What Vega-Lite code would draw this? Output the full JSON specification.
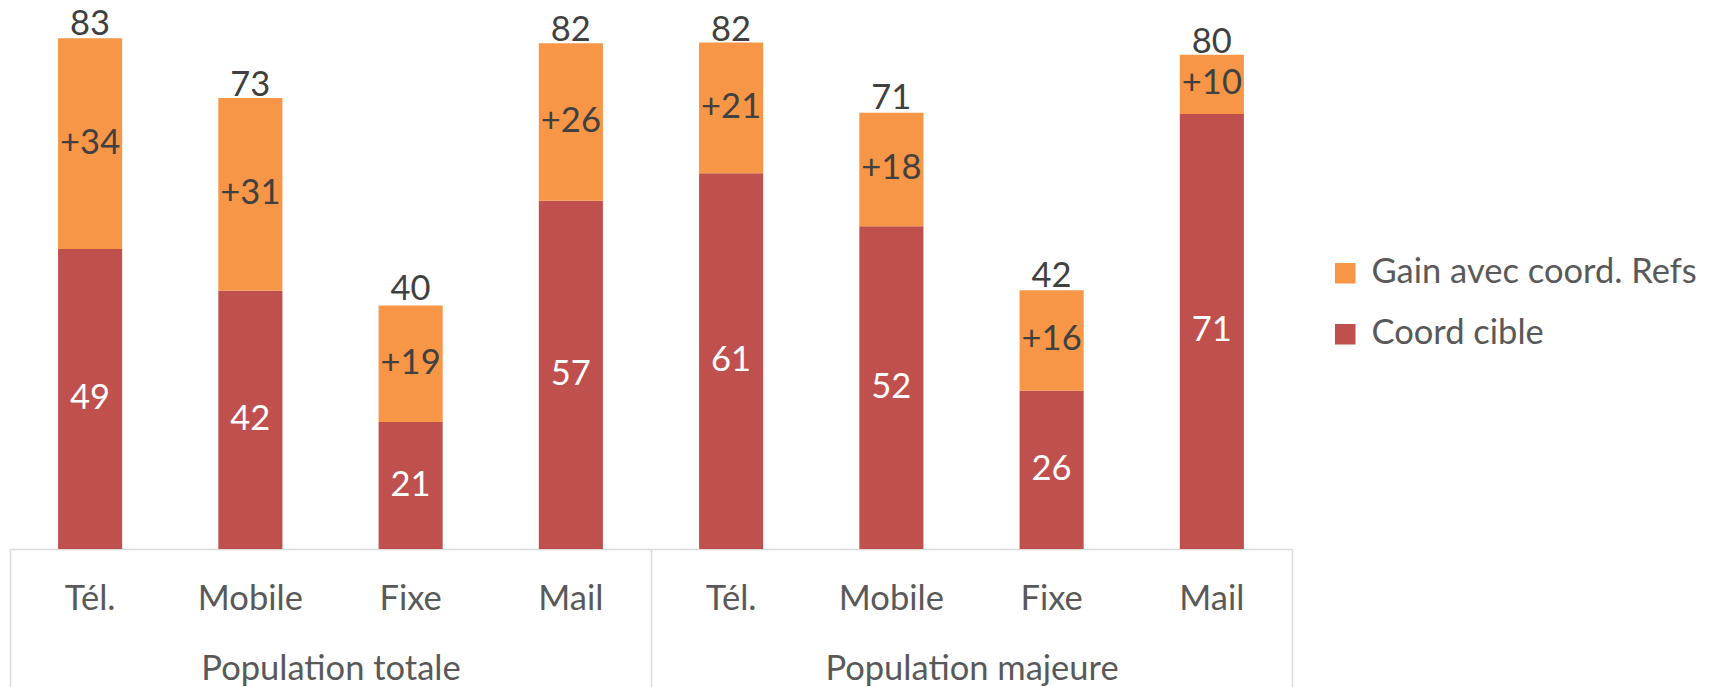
{
  "$schema": "https://vega.github.io/schema/vega-lite/v6.json",
  "autosize": "none",
  "width": 1282,
  "height": 549,
  "padding": {"left": 10, "top": 0, "right": 419, "bottom": 138},
  "background": "white",
  "config": {"view": {"stroke": null}, "font": "Lato", "text": {"font": "Lato"}},
  "datasets": {
    "barres": [
      {"groupe": "Population totale", "canal": "Tél.", "serie": "Coord cible", "valeur": 48.7},
      {"groupe": "Population totale", "canal": "Tél.", "serie": "Gain avec coord. Refs", "valeur": 34.2},
      {"groupe": "Population totale", "canal": "Mobile", "serie": "Coord cible", "valeur": 41.9},
      {"groupe": "Population totale", "canal": "Mobile", "serie": "Gain avec coord. Refs", "valeur": 31.3},
      {"groupe": "Population totale", "canal": "Fixe", "serie": "Coord cible", "valeur": 20.6},
      {"groupe": "Population totale", "canal": "Fixe", "serie": "Gain avec coord. Refs", "valeur": 18.9},
      {"groupe": "Population totale", "canal": "Mail", "serie": "Coord cible", "valeur": 56.5},
      {"groupe": "Population totale", "canal": "Mail", "serie": "Gain avec coord. Refs", "valeur": 25.6},
      {"groupe": "Population majeure", "canal": "Tél.", "serie": "Coord cible", "valeur": 61.0},
      {"groupe": "Population majeure", "canal": "Tél.", "serie": "Gain avec coord. Refs", "valeur": 21.2},
      {"groupe": "Population majeure", "canal": "Mobile", "serie": "Coord cible", "valeur": 52.4},
      {"groupe": "Population majeure", "canal": "Mobile", "serie": "Gain avec coord. Refs", "valeur": 18.4},
      {"groupe": "Population majeure", "canal": "Fixe", "serie": "Coord cible", "valeur": 25.7},
      {"groupe": "Population majeure", "canal": "Fixe", "serie": "Gain avec coord. Refs", "valeur": 16.3},
      {"groupe": "Population majeure", "canal": "Mail", "serie": "Coord cible", "valeur": 70.6},
      {"groupe": "Population majeure", "canal": "Mail", "serie": "Gain avec coord. Refs", "valeur": 9.6}
    ],
    "totaux": [
      {"groupe": "Population totale", "canal": "Tél.", "total": 83},
      {"groupe": "Population totale", "canal": "Mobile", "total": 73},
      {"groupe": "Population totale", "canal": "Fixe", "total": 40},
      {"groupe": "Population totale", "canal": "Mail", "total": 82},
      {"groupe": "Population majeure", "canal": "Tél.", "total": 82},
      {"groupe": "Population majeure", "canal": "Mobile", "total": 71},
      {"groupe": "Population majeure", "canal": "Fixe", "total": 42},
      {"groupe": "Population majeure", "canal": "Mail", "total": 80}
    ],
    "groupes": [
      {"groupe": "Population totale"},
      {"groupe": "Population majeure"}
    ]
  },
  "layer": [
    {
      "encoding": {
        "x": {
          "field": "cle",
          "type": "nominal",
          "sort": ["Population totale|Tél.", "Population totale|Mobile", "Population totale|Fixe", "Population totale|Mail", "Population majeure|Tél.", "Population majeure|Mobile", "Population majeure|Fixe", "Population majeure|Mail"],
          "scale": {"paddingInner": 0.6, "paddingOuter": 0.3},
          "axis": {
            "title": null,
            "domain": false,
            "ticks": false,
            "labelExpr": "split(datum.value, '|')[1]",
            "labelFontSize": 34.5,
            "labelFont": "Lato",
            "labelColor": "#595959",
            "labelBaseline": "alphabetic",
            "labelPadding": 60,
            "labelAngle": 0,
            "labelLimit": 0
          }
        }
      },
      "layer": [
        {
          "data": {"name": "barres"},
          "transform": [{"calculate": "datum.groupe + '|' + datum.canal", "as": "cle"}],
          "mark": {"type": "bar"},
          "encoding": {
            "y": {"field": "valeur", "type": "quantitative", "stack": "zero", "scale": {"domain": [0, 89.1], "nice": false, "zero": true}, "axis": null},
            "color": {
              "field": "serie",
              "type": "nominal",
              "scale": {"domain": ["Gain avec coord. Refs", "Coord cible"], "range": ["#F79646", "#C0504D"]},
              "legend": {
                "orient": "none",
                "legendX": 1318,
                "legendY": 256,
                "title": null,
                "symbolType": "square",
                "symbolSize": 420,
                "symbolStrokeWidth": 0,
                "symbolOpacity": 1,
                "labelFontSize": 34.5,
                "labelFont": "Lato",
                "labelColor": "#595959",
                "labelOffset": 9,
                "labelLimit": 0,
                "rowPadding": 26,
                "padding": 0
              }
            },
            "order": {"field": "serie", "sort": "ascending"}
          }
        },
        {
          "data": {"name": "barres"},
          "transform": [
            {"calculate": "datum.groupe + '|' + datum.canal", "as": "cle"},
            {"stack": "valeur", "groupby": ["cle"], "sort": [{"field": "serie", "order": "ascending"}], "as": ["v0", "v1"]},
            {"calculate": "(datum.v0 + datum.v1) / 2", "as": "milieu"},
            {"filter": "datum.serie === 'Coord cible'"}
          ],
          "mark": {"type": "text", "fontSize": 34.5, "color": "white", "baseline": "middle", "font": "Lato"},
          "encoding": {
            "y": {"field": "milieu", "type": "quantitative"},
            "text": {"field": "valeur", "type": "quantitative", "format": "d"}
          }
        },
        {
          "data": {"name": "barres"},
          "transform": [
            {"calculate": "datum.groupe + '|' + datum.canal", "as": "cle"},
            {"stack": "valeur", "groupby": ["cle"], "sort": [{"field": "serie", "order": "ascending"}], "as": ["v0", "v1"]},
            {"calculate": "(datum.v0 + datum.v1) / 2", "as": "milieu"},
            {"filter": "datum.serie === 'Gain avec coord. Refs'"}
          ],
          "mark": {"type": "text", "fontSize": 34.5, "color": "#404040", "baseline": "middle", "font": "Lato"},
          "encoding": {
            "y": {"field": "milieu", "type": "quantitative"},
            "text": {"field": "valeur", "type": "quantitative", "format": "+d"}
          }
        },
        {
          "data": {"name": "totaux"},
          "transform": [{"calculate": "datum.groupe + '|' + datum.canal", "as": "cle"}],
          "mark": {"type": "text", "fontSize": 34.5, "color": "#404040", "baseline": "alphabetic", "dy": -3, "font": "Lato"},
          "encoding": {
            "y": {"field": "total", "type": "quantitative"},
            "text": {"field": "total", "type": "quantitative", "format": "d"}
          }
        }
      ]
    },
    {
      "data": {"name": "groupes"},
      "mark": {"type": "rule", "opacity": 0},
      "encoding": {
        "x": {
          "field": "groupe",
          "type": "nominal",
          "sort": ["Population totale", "Population majeure"],
          "scale": {"paddingInner": 0, "paddingOuter": 0},
          "axis": {
            "orient": "bottom",
            "title": null,
            "domain": true,
            "domainColor": "#D9D9D9",
            "domainWidth": 1.5,
            "ticks": true,
            "tickBand": "extent",
            "tickSize": 140,
            "tickColor": "#D9D9D9",
            "tickWidth": 1.5,
            "labelFontSize": 34.5,
            "labelFont": "Lato",
            "labelColor": "#595959",
            "labelBaseline": "alphabetic",
            "labelPadding": -10,
            "labelAngle": 0,
            "labelLimit": 0
          }
        }
      }
    }
  ],
  "resolve": {"scale": {"x": "independent"}, "axis": {"x": "independent"}}
}
